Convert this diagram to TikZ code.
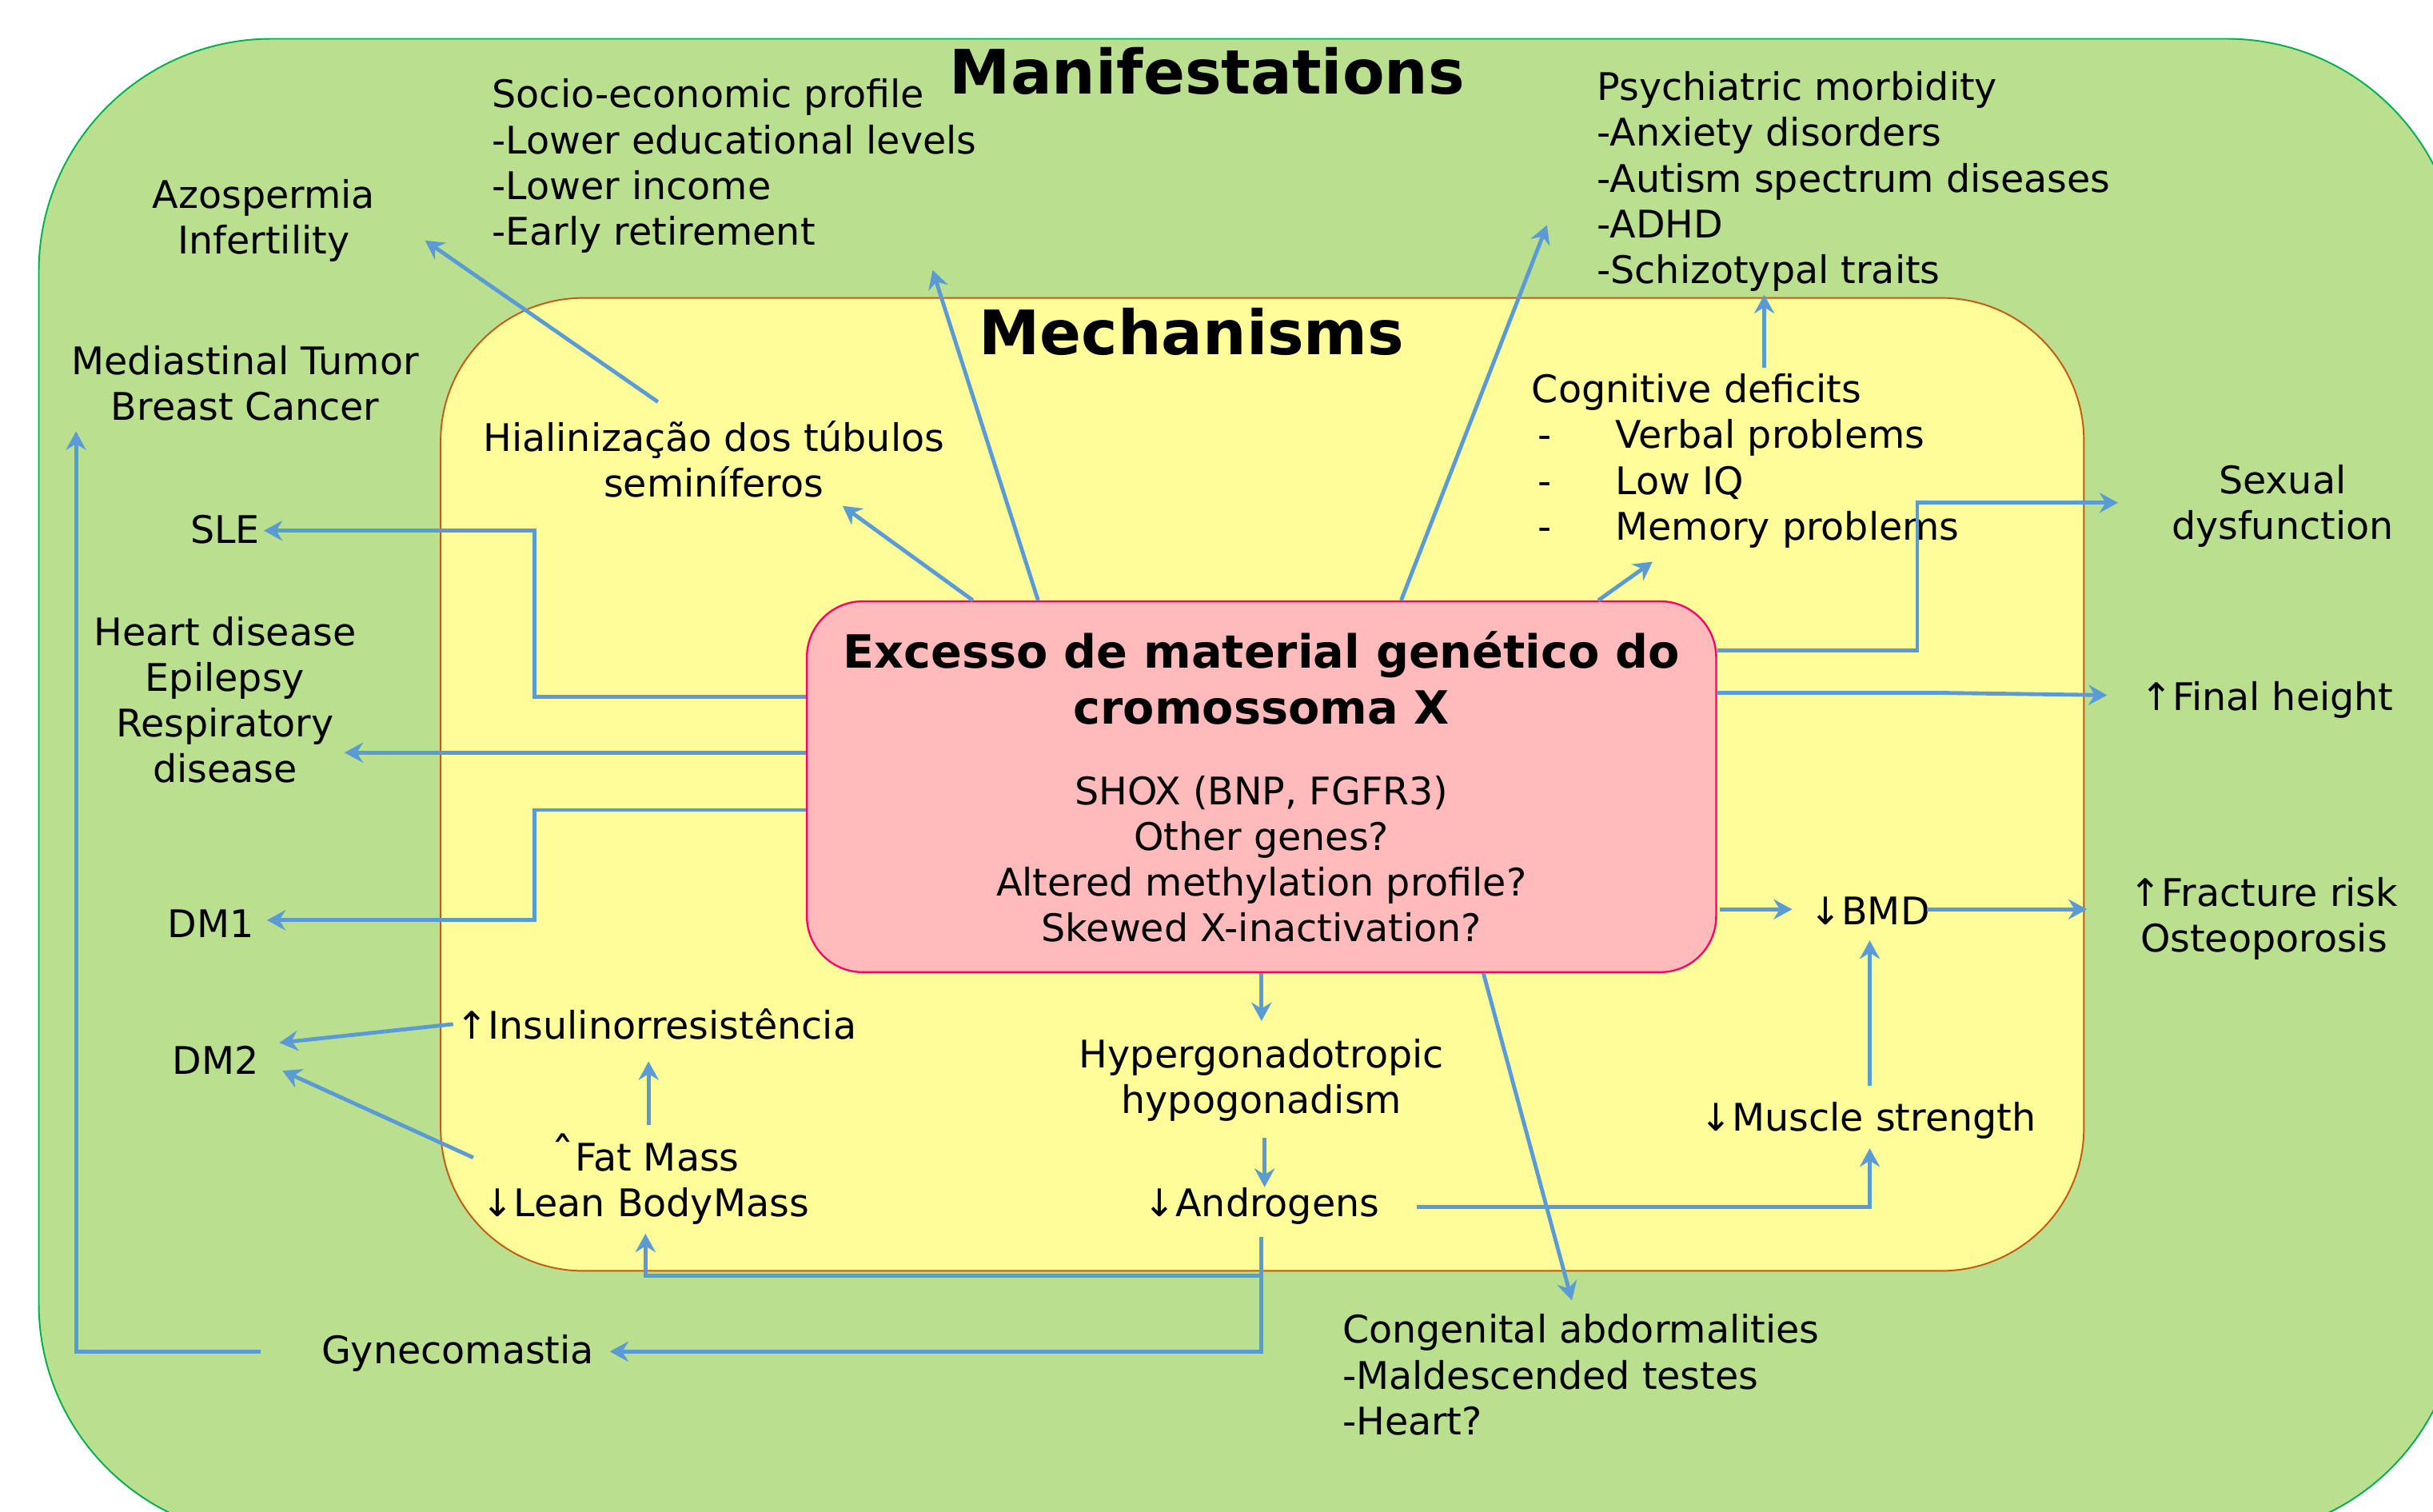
\documentclass[tikz,border=0pt]{standalone}
\usepackage{fontspec}
\setmainfont{DejaVu Sans}
\usetikzlibrary{arrows.meta}
\definecolor{gfill}{RGB}{185,223,143}
\definecolor{gline}{RGB}{0,176,80}
\definecolor{yfill}{RGB}{255,253,153}
\definecolor{yline}{RGB}{197,90,17}
\definecolor{pfill}{RGB}{255,187,187}
\definecolor{pline}{RGB}{255,0,102}
\definecolor{arrc}{RGB}{91,155,213}
\newcommand\bodyf{\fontsize{24.5}{29.5}\selectfont}
\newcommand\corebf{\fontsize{29.5}{29.5}\selectfont\bfseries}
\newcommand\bigtitf{\fontsize{39.5}{42}\selectfont\bfseries}
\tikzset{
  txt/.style={inner sep=0pt, align=center, font=\bodyf},
  ltxt/.style={inner sep=0pt, align=left, font=\bodyf, anchor=west},
  ttl/.style={inner sep=0pt, font=\bigtitf},
  arr/.style={draw=arrc, line width=2.5pt, -{Stealth[length=12pt,width=13pt,inset=4pt]}},
}
\begin{document}
\begin{tikzpicture}[x=1pt,y=-1pt]
\useasboundingbox (0,0) rectangle (1568,974);
\fill[white] (0,0) rectangle (1568,974);
\clip (0,0) rectangle (1568,974);
% background regions
\draw[gline, fill=gfill, line width=1pt, rounded corners=150pt] (25,25) rectangle (1585,990);
\draw[yline, fill=yfill, line width=1pt, rounded corners=92pt] (284,192) rectangle (1343,819);
% titles
\node[ttl] (tman) at (778,46) {Manifestations};
\node[ttl] (tmec) at (768,214) {Mechanisms};
% core box
\node[draw=pline, fill=pfill, line width=1.2pt, rounded corners=36pt, minimum width=586pt, minimum height=239pt, inner sep=0pt, align=center, font=\bodyf] (core) at (813,507)
  {{\corebf Excesso de material genético do}\\[6.5pt]{\corebf cromossoma X}\\[22.5pt]SHOX (BNP, FGFR3)\\Other genes?\\Altered methylation profile?\\Skewed X-inactivation?};
% text nodes
\node[ltxt] (socio) at (317,107) {Socio-economic profile\\-Lower educational levels\\-Lower income\\-Early retirement};
\node[txt] (azo) at (170,142) {Azospermia\\Infertility};
\node[txt] (medi) at (158,247) {Mediastinal Tumor\\Breast Cancer};
\node[txt] (sle) at (145,341) {SLE};
\node[txt] (heart) at (145,451) {Heart disease\\Epilepsy\\Respiratory\\disease};
\node[txt] (dm1) at (136,595) {DM1};
\node[txt] (dm2) at (139,683) {DM2};
\node[txt] (gyne) at (295,872) {Gynecomastia};
\node[txt] (hial) at (460,296) {Hialinização dos túbulos\\seminíferos};
\node[ltxt] (psych) at (1029,117) {Psychiatric morbidity\\-Anxiety disorders\\-Autism spectrum diseases\\-ADHD\\-Schizotypal traits};
\node[ltxt] (cogn) at (987,297) {Cognitive deficits\\\makebox[54pt][l]{\,-}Verbal problems\\\makebox[54pt][l]{\,-}Low IQ\\\makebox[54pt][l]{\,-}Memory problems};
\node[txt] (sexual) at (1471,326) {Sexual\\dysfunction};
\node[txt] (final) at (1461,451) {↑Final height};
\node[txt] (fract) at (1459,592) {↑Fracture risk\\Osteoporosis};
\node[txt] (bmd) at (1205,587) {↓BMD};
\node[txt] (muscle) at (1204,722) {↓Muscle strength};
\node[txt] (hyper) at (813,696) {Hypergonadotropic\\hypogonadism};
\node[txt] (andro) at (813,777) {↓Androgens};
\node[txt] (insul) at (423,660) {↑Insulinorresistência};
\node[txt] (fat) at (416,760) {{\fontsize{30}{29.5}\selectfont ˆ}Fat Mass\\↓Lean BodyMass};
\node[ltxt] (cong) at (865,886) {Congenital abdormalities\\-Maldescended testes\\-Heart?};
% connectors
\draw[arr] ([shift={(-36,-37)}]hial.center) -- ([shift={(104,13)}]azo.center);
\draw[arr] ([xshift=-186pt]core.north) -- ([shift={(83,30)}]hial.center);
\draw[arr] ([xshift=-144pt]core.north) -- ([shift={(284,67)}]socio.west);
\draw[arr] ([xshift=90pt]core.north) -- ([shift={(-32,28)}]psych.west);
\draw[arr] ([shift={(150,-60)}]cogn.west) -- ([shift={(108,73)}]psych.west);
\draw[arr] ([xshift=217pt]core.north) -- ([shift={(78,65)}]cogn.west);
\draw[arr] ([shift={(0,-88)}]core.east) -- ++(129,0) |- ([shift={(-106,-2)}]sexual.center);
\draw[arr] ([shift={(0,-60.5)}]core.east) -- ++(144,0) -- ([shift={(-103,-3)}]final.center);
\draw[arr] ([shift={(2,79)}]core.east) -- ([shift={(-50,-1)}]bmd.center);
\draw[arr] ([shift={(37,-1)}]bmd.center) -- ([shift={(-114,-6)}]fract.center);
\draw[arr] ([shift={(1,-22)}]muscle.center) -- ([shift={(0,19)}]bmd.center);
\draw[arr] ([shift={(100,1)}]andro.center) -| ([shift={(1,18)}]muscle.center);
\draw[arr] (core.south) -- ([shift={(0,-38)}]hyper.center);
\draw[arr] ([shift={(2,37)}]hyper.center) -- ([shift={(2,-12)}]andro.center);
\draw[arr] ([xshift=143pt]core.south) -- ([shift={(148,-48)}]cong.west);
\draw[arr] ([shift={(0,20)}]andro.center) |- ([shift={(98,-1)}]gyne.center);
\draw[arr] ([shift={(0,45)}]andro.center) -| ([shift={(0,35)}]fat.center);
\draw[arr] ([shift={(-127,-1)}]gyne.center) -| ([shift={(-109,31)}]medi.center);
\draw[arr] ([shift={(0,-58)}]core.west) -- ++(-175,0) |- ([shift={(25,1)}]sle.center);
\draw[arr] ([shift={(0,-22)}]core.west) -- ([shift={(77,34)}]heart.center);
\draw[arr] ([shift={(0,15)}]core.west) -- ++(-175,0) |- ([shift={(36,-2)}]dm1.center);
\draw[arr] ([shift={(-131,0)}]insul.center) -- ([shift={(41,-11)}]dm2.center);
\draw[arr] ([shift={(-111,-14)}]fat.center) -- ([shift={(43,7)}]dm2.center);
\draw[arr] ([shift={(2,-35)}]fat.center) -- ([shift={(-5,24)}]insul.center);
\end{tikzpicture}
\end{document}
